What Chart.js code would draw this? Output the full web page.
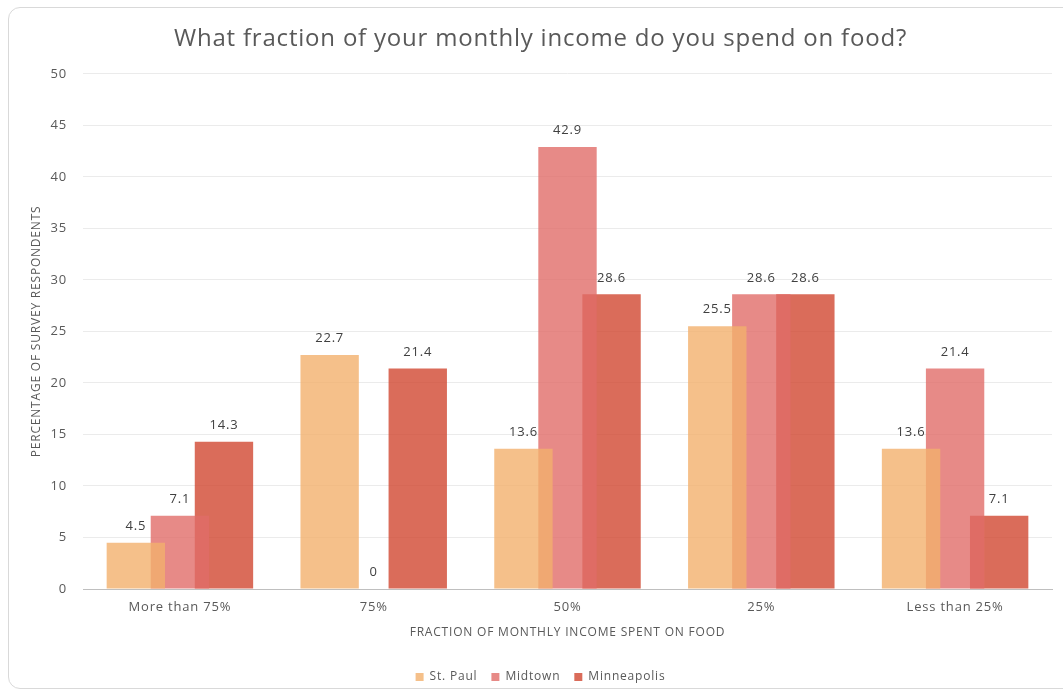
<!DOCTYPE html>
<html>
<head>
<meta charset="utf-8">
<script src="https://cdn.jsdelivr.net/npm/chart.js@4.4.1/dist/chart.umd.min.js"></script>
<style>
    body { margin: 0; background: #fff; overflow: hidden; }
    #wrap { position: relative; width: 1063px; height: 695px; }
    #frame {
        position: absolute; left: 8px; top: 7px; width: 1070px; height: 682px;
        border: 1px solid #d9d9d9; border-radius: 12px; box-sizing: border-box;
    }
    canvas { position: absolute; left: 0; top: 0; }
</style>
</head>
<body>
<div id="wrap">
    <div id="frame"></div>
    <canvas id="foodChart" width="1063" height="695"></canvas>
</div>
<script>
// Data
const categories = ["More than 75%", "75%", "50%", "25%", "Less than 25%"];
const stPaul = [4.5, 22.7, 13.6, 25.5, 13.6];
const midtown = [7.1, 0, 42.9, 28.6, 21.4];
const minneapolis = [14.3, 21.4, 28.6, 28.6, 7.1];
const seriesNames = ["St. Paul", "Midtown", "Minneapolis"];

const FONT = "'Open Sans', 'DejaVu Sans', sans-serif";
const TEXT = "#595959";

// The reference text is a bit spread out, so widen letters a little
const spacing = {
    id: "spacing",
    beforeUpdate(chart) { chart.ctx.letterSpacing = "0.8px"; },
    beforeLayout(chart) { chart.ctx.letterSpacing = "0.8px"; },
    beforeDraw(chart) { chart.ctx.letterSpacing = "0.8px"; }
};

// Draw the value above every bar
const valueLabels = {
    id: "valueLabels",
    afterDatasetsDraw(chart) {
        const ctx = chart.ctx;
        ctx.save();
        ctx.font = "13px " + FONT;
        ctx.fillStyle = "#404040";
        ctx.textAlign = "center";
        ctx.textBaseline = "bottom";
        chart.data.datasets.forEach((ds, i) => {
            chart.getDatasetMeta(i).data.forEach((bar, j) => {
                ctx.fillText(String(ds.data[j]), bar.x, bar.y - 10);
            });
        });
        ctx.restore();
    }
};

const ctx = document.getElementById("foodChart").getContext("2d");
new Chart(ctx, {
    type: "bar",
    data: {
        labels: categories,
        datasets: [
            { label: seriesNames[0], data: stPaul, backgroundColor: "rgba(243,176,109,0.8)" },
            { label: seriesNames[1], data: midtown, backgroundColor: "rgba(225,109,105,0.8)" },
            { label: seriesNames[2], data: minneapolis, backgroundColor: "rgba(209,71,49,0.8)" }
        ]
    },
    options: {
        responsive: false,
        animation: false,
        layout: { padding: { left: 29, right: 11, top: 0, bottom: 2 } },
        datasets: {
            bar: { categoryPercentage: 0.682, barPercentage: 1.325 }
        },
        plugins: {
            title: {
                display: true,
                text: "What fraction of your monthly income do you spend on food?",
                color: TEXT,
                font: { family: FONT, size: 24, weight: "normal" },
                padding: { top: 25, bottom: 20 }
            },
            legend: {
                position: "bottom",
                labels: {
                    color: TEXT,
                    font: { family: FONT, size: 12 },
                    boxWidth: 8,
                    boxHeight: 8,
                    padding: 14
                }
            },
            tooltip: { enabled: false }
        },
        scales: {
            x: {
                grid: { display: false },
                border: { color: "#bfbfbf", width: 1 },
                ticks: { color: TEXT, font: { family: FONT, size: 13 }, padding: 2 },
                title: {
                    display: true,
                    text: "FRACTION OF MONTHLY INCOME SPENT ON FOOD",
                    color: TEXT,
                    font: { family: FONT, size: 12 },
                    padding: { top: 9, bottom: 17 }
                }
            },
            y: {
                min: 0,
                max: 50,
                ticks: { stepSize: 5, color: TEXT, font: { family: FONT, size: 13 }, padding: 16 },
                grid: { color: "#ebebeb", drawTicks: false },
                border: { display: false },
                title: {
                    display: true,
                    text: "PERCENTAGE OF SURVEY RESPONDENTS",
                    color: TEXT,
                    font: { family: FONT, size: 12 },
                    padding: { top: 0, bottom: 0 }
                },
                afterFit(scale) { scale.width = 54; }
            }
        }
    },
    plugins: [spacing, valueLabels]
});
</script>
</body>
</html>
